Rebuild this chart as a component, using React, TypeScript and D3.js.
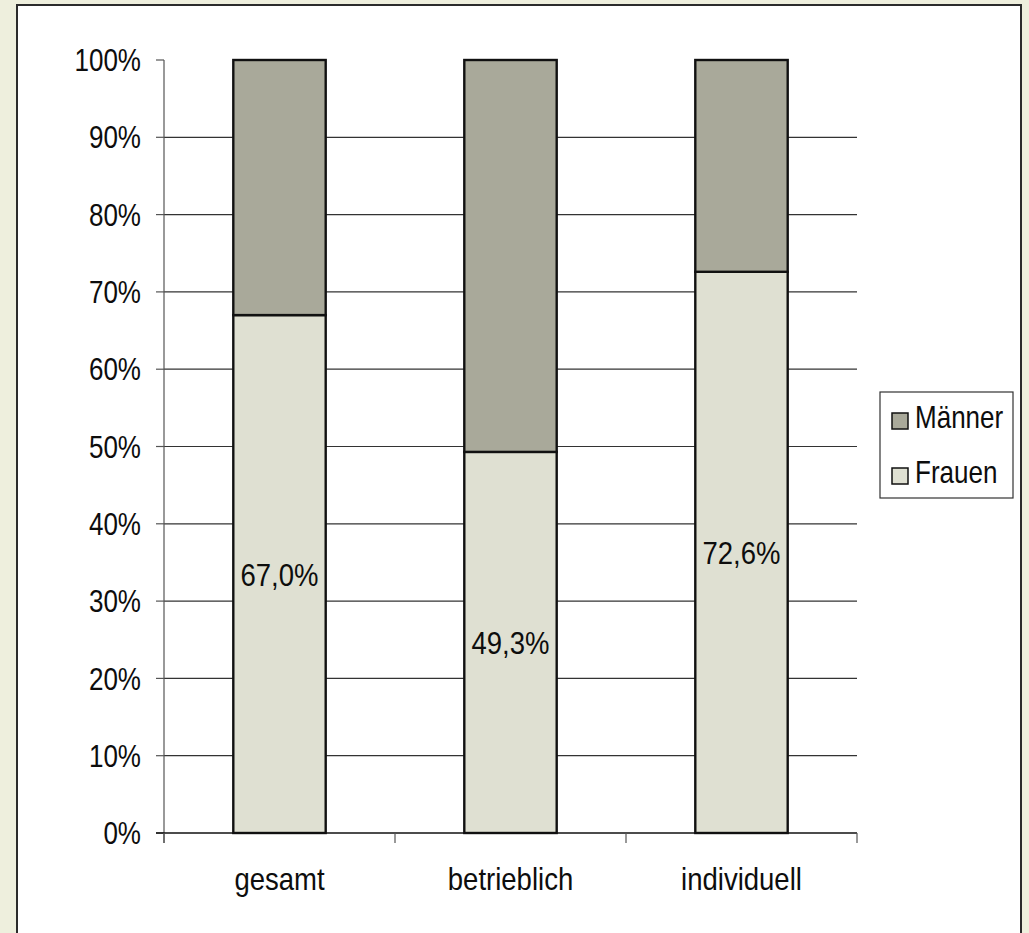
import React from "react";
import * as d3 from "d3";

const categories = ["gesamt", "betrieblich", "individuell"];
const frauen = [67.0, 49.3, 72.6];
const maenner = [33.0, 50.7, 27.4];
const yTicks = [0, 10, 20, 30, 40, 50, 60, 70, 80, 90, 100];
const seriesNames = ["Männer", "Frauen"];

const W = 1029;
const H = 933;
const FONT = "'Liberation Sans', Arial, sans-serif";
const C_M = "#A9A99A";
const C_F = "#DFE0D2";

function T({ x, y, anchor, dy, size, sx, children }: { x: number; y: number; anchor?: string; dy?: string; size?: number; sx?: number; children: any }) {
  return (
    <g transform={`translate(${x},${y}) scale(${sx || 0.84},1)`}>
      <text x={0} y={0} dy={dy} textAnchor={anchor || "start"} fontSize={size || 31} fill="#0d0d0d">{children}</text>
    </g>
  );
}

export default function App() {
  const left = 164, right = 857, top = 60, bottom = 833;
  const x = d3.scaleBand<string>().domain(categories).range([left, right]).paddingInner(0).paddingOuter(0);
  const y = d3.scaleLinear().domain([0, 100]).range([bottom, top]);
  const bw = x.bandwidth() * 0.4;
  const fmt = (v: number) => v.toFixed(1).replace(".", ",") + "%";
  const stack = d3.stack<any>().keys(["f", "m"])(categories.map((c, i) => ({ c, f: frauen[i], m: maenner[i] })));

  return (
    <svg width={W} height={H} style={{ position: "absolute", left: 0, top: 0, display: "block" }} fontFamily={FONT}>
      <rect x={0} y={0} width={W} height={H} fill="#EEEFDD" />
      <rect x={17} y={5} width={1004} height={H + 20} fill="#FFFFFF" stroke="#2b2b2b" strokeWidth={2} />
      {yTicks.filter((t) => t > 0 && t < 100).map((t) => (
        <line key={"g" + t} x1={left} x2={right} y1={y(t)} y2={y(t)} stroke="#333" strokeWidth={1.2} />
      ))}
      {yTicks.map((t) => (
        <g key={"t" + t}>
          <line x1={left - 8} x2={left} y1={y(t)} y2={y(t)} stroke="#555" strokeWidth={1.2} />
          <T x={141} y={y(t)} dy="0.36em" anchor="end">{t + "%"}</T>
        </g>
      ))}
      <line x1={left} x2={left} y1={top} y2={bottom + 10} stroke="#555" strokeWidth={1.2} />
      {stack.map((s, si) =>
        s.map((d, i) => {
          const cx = (x(categories[i]) as number) + x.bandwidth() / 2;
          return (
            <rect key={si + "-" + i} x={cx - bw / 2} y={y(d[1])} width={bw} height={y(d[0]) - y(d[1])}
              fill={si === 0 ? C_F : C_M} stroke="#111" strokeWidth={2.4} />
          );
        })
      )}
      <line x1={left - 8} x2={right} y1={bottom} y2={bottom} stroke="#111" strokeWidth={1.5} />
      {[...categories.map((c) => x(c) as number), right].map((v, i) => (
        <line key={"xt" + i} x1={v} x2={v} y1={bottom} y2={bottom + 10} stroke="#555" strokeWidth={1.2} />
      ))}
      {categories.map((c) => (
        <T key={c} x={(x(c) as number) + x.bandwidth() / 2} y={890} anchor="middle" size={32} sx={0.86}>{c}</T>
      ))}
      {frauen.map((v, i) => (
        <T key={"l" + i} x={(x(categories[i]) as number) + x.bandwidth() / 2} y={y(v / 2)} dy="0.36em" anchor="middle" size={32} sx={0.86}>{fmt(v)}</T>
      ))}
      <rect x={880} y={392} width={133} height={106} fill="#fff" stroke="#333" strokeWidth={1.2} />
      {seriesNames.map((n, i) => (
        <g key={n}>
          <rect x={892} y={413 + i * 55} width={16} height={16} fill={i === 0 ? C_M : C_F} stroke="#111" strokeWidth={1.5} />
          <T x={915} y={428 + i * 55}>{n}</T>
        </g>
      ))}
    </svg>
  );
}
